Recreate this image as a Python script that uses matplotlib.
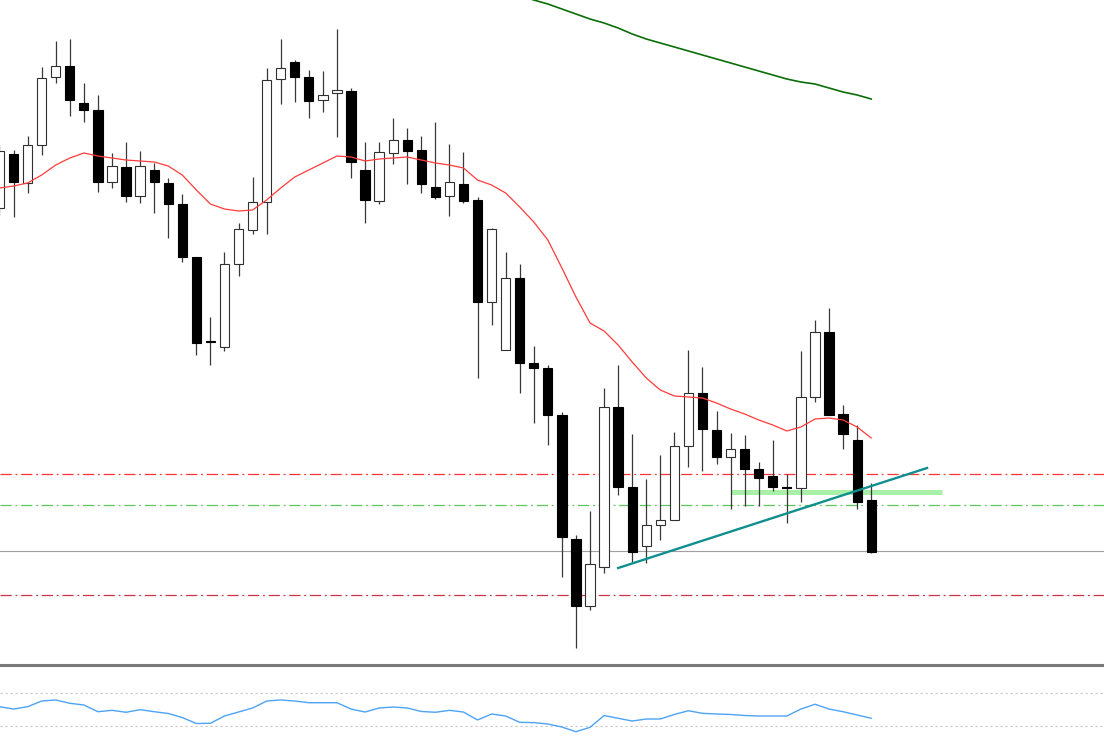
import numpy as np
import matplotlib
matplotlib.use("Agg")
import matplotlib.pyplot as plt

# OHLC (price in points)
opens = [1457, 1511, 1482, 1520, 1588, 1599, 1562, 1555, 1483, 1498,
         1469, 1495, 1482, 1461, 1408, 1324, 1318, 1401, 1435, 1463,
         1586, 1603, 1588, 1565, 1572, 1574, 1495, 1464, 1512, 1525,
         1515, 1478, 1469, 1481, 1465, 1363, 1315, 1387, 1302, 1297,
         1250, 1126, 1059, 1098, 1258, 1178, 1119, 1140, 1145, 1219,
         1272, 1235, 1208, 1216, 1196, 1189, 1178, 1177, 1268, 1333,
         1251, 1225, 1165]
highs = [1520, 1515, 1529, 1598, 1624, 1626, 1582, 1570, 1512, 1523,
         1514, 1502, 1487, 1471, 1408, 1348, 1413, 1442, 1488, 1597,
         1626, 1605, 1595, 1594, 1636, 1577, 1523, 1523, 1547, 1537,
         1529, 1543, 1521, 1513, 1468, 1437, 1413, 1401, 1319, 1300,
         1253, 1130, 1154, 1277, 1300, 1231, 1186, 1210, 1233, 1315,
         1298, 1254, 1232, 1230, 1203, 1225, 1191, 1314, 1345, 1357,
         1260, 1240, 1182]
lows = [1450, 1448, 1472, 1510, 1582, 1549, 1543, 1473, 1477, 1463,
        1462, 1452, 1427, 1403, 1310, 1300, 1314, 1389, 1431, 1431,
        1561, 1563, 1547, 1553, 1528, 1487, 1442, 1461, 1501, 1481,
        1472, 1466, 1449, 1462, 1287, 1340, 1315, 1272, 1242, 1220,
        1088, 1017, 1055, 1092, 1170, 1103, 1102, 1125, 1145, 1198,
        1194, 1201, 1156, 1159, 1159, 1174, 1142, 1163, 1263, 1250,
        1216, 1156, 1112]
closes = [1514, 1483, 1520, 1587, 1599, 1565, 1555, 1483, 1499, 1469,
          1499, 1483, 1461, 1408, 1322, 1323, 1401, 1436, 1463, 1585,
          1597, 1588, 1564, 1570, 1575, 1503, 1465, 1513, 1525, 1514,
          1481, 1468, 1483, 1464, 1363, 1436, 1387, 1302, 1297, 1250,
          1128, 1059, 1101, 1258, 1178, 1113, 1140, 1145, 1219, 1272,
          1236, 1208, 1216, 1196, 1187, 1178, 1177, 1268, 1333, 1250,
          1231, 1163, 1113]

ma_fast = [1477, 1479, 1482, 1490, 1500, 1507, 1512, 1509, 1507, 1505,
           1504, 1503, 1499, 1490, 1475, 1461, 1456, 1454, 1455, 1465,
           1477, 1488, 1495, 1502, 1509, 1508, 1504, 1506, 1507, 1508,
           1505, 1502, 1500, 1497, 1485, 1480, 1472, 1458, 1443, 1425,
           1397, 1368, 1342, 1334, 1320, 1303, 1287, 1275, 1269, 1268,
           1267, 1262, 1256, 1251, 1245, 1240, 1234, 1238, 1246, 1247,
           1245, 1238, 1227]

ma_slow_start = 35
ma_slow = [1680, 1675, 1670, 1665, 1661, 1656, 1651, 1646, 1642, 1637,
           1631, 1626, 1622, 1618, 1614, 1610, 1606, 1602, 1598, 1594,
           1590, 1586, 1583, 1581, 1577, 1573, 1570, 1566]

rsi = [53.5, 50.6, 53.5, 60.5, 61.8, 57.7, 55.6, 47.3, 49.0, 46.6,
       49.8, 47.3, 45.1, 40.1, 32.7, 33.0, 42.0, 46.9, 51.9, 60.5,
       61.8, 60.5, 58.4, 58.4, 58.4, 50.6, 46.9, 51.9, 53.1, 51.9,
       47.6, 46.6, 49.0, 46.9, 37.1, 44.5, 42.0, 34.2, 33.8, 32.1,
       28.4, 22.6, 28.0, 42.6, 39.2, 35.8, 38.3, 38.3, 43.9, 48.5,
       45.3, 44.5, 43.9, 42.6, 42.0, 42.0, 42.0, 50.6, 56.5, 50.6,
       47.3, 43.2, 39.2]

level_upper = 1191
level_mid = 1160.5
level_price = 1114
level_lower = 1070
zone_level = 1173.5
zone_span = (52, 67)
trend_x = [44.0, 65.97]
trend_y = [1097, 1197]
rsi_levels = [70, 30]

n = len(opens)
idx = np.arange(n)
o = np.array(opens)
c = np.array(closes)
bull = c >= o

fig = plt.figure(figsize=(11.04, 7.5), dpi=100)
fig.patch.set_facecolor('white')

xlim = (0.036, 78.556)

ax = fig.add_axes([0, 85 / 750, 1, 665 / 750])
ax.set_xlim(*xlim)
ax.set_ylim(1000, 1665)
ax.axis('off')

# level lines
dd = (0, (9, 3, 1.5, 3))
ax.axhline(level_upper, color='#ff3333', lw=0.9, ls=dd, zorder=1)
ax.axhline(level_mid, color='#5cc85c', lw=0.9, ls=dd, zorder=1)
ax.axhline(level_lower, color='#cc3344', lw=0.9, ls=dd, zorder=1)
ax.axhline(level_price, color='#a0a0a0', lw=0.8, zorder=1)
ax.plot(zone_span, [zone_level, zone_level], color='#a8f0a8', lw=3.6,
        solid_capstyle='butt', zorder=2)

# candles
ax.vlines(idx, lows, highs, color='#383838', lw=0.9, zorder=3)
bottoms = np.minimum(o, c)
heights = np.maximum(np.abs(c - o), 0.8)
ax.bar(idx[bull], heights[bull], bottom=bottoms[bull], width=0.66,
       facecolor='white', edgecolor='#303030', linewidth=0.8, zorder=4)
ax.bar(idx[~bull], heights[~bull], bottom=bottoms[~bull], width=0.66,
       facecolor='black', edgecolor='black', linewidth=0.8, zorder=4)

# moving averages
ax.plot(idx, ma_fast, color='#ff3b3b', lw=0.9, zorder=5)
ax.plot(np.arange(ma_slow_start, ma_slow_start + len(ma_slow)), ma_slow,
        color='#0b6e0b', lw=1.2, zorder=5)

# trend line
ax.plot(trend_x, trend_y, color='#118f8f', lw=1.7, zorder=6)

# lower panel
ax2 = fig.add_axes([0, 0, 1, 85 / 750])
ax2.set_xlim(*xlim)
ax2.set_ylim(0, 105)
for s in ['left', 'right', 'bottom']:
    ax2.spines[s].set_visible(False)
ax2.spines['top'].set_color('#7a7a7a')
ax2.spines['top'].set_linewidth(2.2)
ax2.set_xticks([])
ax2.set_yticks([])
for lv in rsi_levels:
    ax2.axhline(lv, color='#c8c8c8', lw=0.8, ls=(0, (2, 2.5)))
ax2.plot(idx, rsi, color='#4da3f5', lw=1.0)

fig.savefig('out.png', dpi=100, facecolor='white')
